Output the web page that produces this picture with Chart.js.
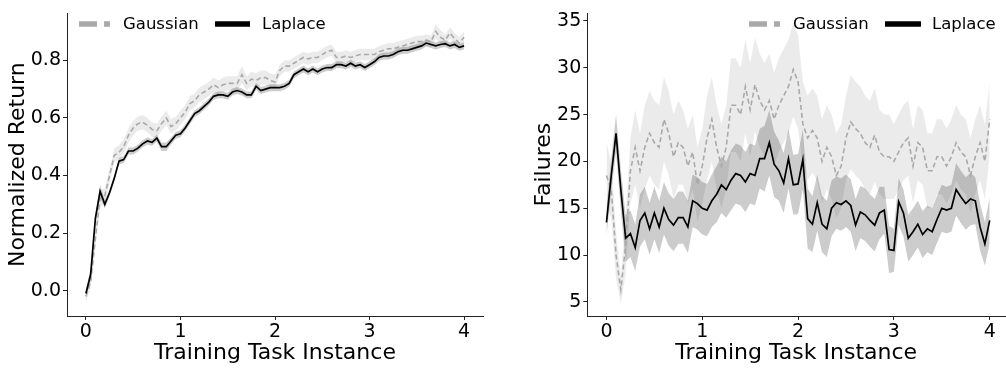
<!DOCTYPE html>
<html>
<head>
<meta charset="utf-8">
<script src="https://cdn.jsdelivr.net/npm/chart.js@4/dist/chart.umd.min.js"></script>
<style>
  html, body { margin: 0; padding: 0; background: #fff; }
  #wrap { position: relative; width: 1006px; height: 369px; overflow: hidden; }
  #c1 { position: absolute; left: 0; top: 0; }
  #c2 { position: absolute; left: 500px; top: 0; }
</style>
</head>
<body>
<div id="wrap">
  <canvas id="c1" width="500" height="369"></canvas>
  <canvas id="c2" width="506" height="369"></canvas>
</div>
<script>
// ---- data ----
const xs = [0,0.05,0.1,0.15,0.2,0.25,0.3,0.35,0.4,0.45,
  0.5,0.55,0.6,0.65,0.7,0.75,0.8,0.85,0.9,0.95,
  1.0,1.05,1.1,1.15,1.2,1.25,1.3,1.35,1.4,1.45,
  1.5,1.55,1.6,1.65,1.7,1.75,1.8,1.85,1.9,1.95,
  2.0,2.05,2.1,2.15,2.2,2.25,2.3,2.35,2.4,2.45,
  2.5,2.55,2.6,2.65,2.7,2.75,2.8,2.85,2.9,2.95,
  3.0,3.05,3.1,3.15,3.2,3.25,3.3,3.35,3.4,3.45,
  3.5,3.55,3.6,3.65,3.7,3.75,3.8,3.85,3.9,3.95,
  4.0];

const seriesNames = ["Gaussian", "Laplace"];

// Left panel: Normalized Return
const returnGaussian = [-0.02,0.03,0.18,0.32,0.33,0.40,0.47,0.48,0.50,0.54,
  0.565,0.58,0.585,0.575,0.56,0.555,0.58,0.60,0.57,0.58,
  0.60,0.62,0.65,0.66,0.68,0.69,0.70,0.715,0.705,0.715,
  0.72,0.72,0.72,0.75,0.72,0.735,0.73,0.74,0.74,0.73,
  0.725,0.765,0.78,0.78,0.79,0.80,0.81,0.805,0.81,0.81,
  0.82,0.83,0.835,0.81,0.81,0.815,0.81,0.815,0.82,0.82,
  0.82,0.82,0.83,0.835,0.84,0.84,0.845,0.85,0.855,0.86,
  0.865,0.865,0.87,0.865,0.90,0.88,0.87,0.895,0.875,0.86,
  0.88];
const returnGaussianStd = [0.02,0.02,0.025,0.03,0.025,0.025,0.025,0.025,0.025,0.025,
  0.025,0.025,0.025,0.025,0.025,0.025,0.025,0.025,0.025,0.025,
  0.025,0.025,0.025,0.025,0.025,0.025,0.025,0.025,0.025,0.025,
  0.025,0.025,0.025,0.03,0.025,0.025,0.025,0.025,0.025,0.025,
  0.025,0.02,0.02,0.02,0.02,0.02,0.02,0.02,0.02,0.02,
  0.02,0.02,0.02,0.02,0.02,0.02,0.02,0.02,0.02,0.02,
  0.02,0.02,0.02,0.02,0.02,0.02,0.02,0.02,0.02,0.02,
  0.02,0.02,0.02,0.02,0.025,0.025,0.02,0.02,0.02,0.02,
  0.02];
const returnLaplace = [-0.01,0.056,0.25,0.345,0.30,0.34,0.39,0.45,0.455,0.485,
  0.485,0.495,0.51,0.52,0.515,0.53,0.50,0.50,0.52,0.54,
  0.545,0.565,0.59,0.615,0.625,0.64,0.655,0.675,0.68,0.68,
  0.675,0.69,0.695,0.69,0.68,0.68,0.71,0.695,0.70,0.705,
  0.705,0.705,0.71,0.72,0.75,0.76,0.77,0.76,0.77,0.76,
  0.77,0.775,0.775,0.785,0.785,0.78,0.79,0.78,0.785,0.775,
  0.785,0.795,0.81,0.815,0.815,0.82,0.83,0.835,0.835,0.84,
  0.845,0.85,0.86,0.855,0.85,0.855,0.858,0.85,0.855,0.845,
  0.85];
const returnLaplaceStd = [0.015,0.02,0.02,0.02,0.015,0.012,0.012,0.012,0.012,0.012,
  0.012,0.012,0.012,0.012,0.012,0.012,0.015,0.015,0.012,0.012,
  0.012,0.012,0.012,0.012,0.012,0.012,0.012,0.012,0.012,0.012,
  0.012,0.012,0.012,0.012,0.012,0.012,0.012,0.012,0.012,0.012,
  0.012,0.012,0.012,0.012,0.012,0.012,0.012,0.012,0.012,0.012,
  0.012,0.012,0.012,0.012,0.012,0.012,0.012,0.012,0.012,0.012,
  0.012,0.012,0.012,0.012,0.012,0.012,0.012,0.012,0.012,0.012,
  0.012,0.012,0.012,0.012,0.012,0.012,0.012,0.012,0.012,0.012,
  0.012];

// Right panel: Failures
const failGaussian = [18.5,17.0,10.0,6.3,11.0,19.0,21.5,19.0,21.5,23.0,
  22.0,21.5,24.5,23.0,20.5,22.0,21.5,19.5,21.0,17.5,
  19.5,22.5,24.5,21.5,19.5,21.5,26.0,26.0,25.0,28.0,
  25.5,28.2,26.5,25.5,26.5,24.5,26.0,27.0,28.0,29.8,
  28.5,24.0,22.5,23.3,22.5,20.0,21.5,20.5,18.5,19.5,
  22.5,24.2,23.5,23.0,22.0,21.5,22.8,21.0,20.5,20.5,
  20.0,21.0,22.0,22.5,19.5,22.0,21.5,19.0,19.0,20.5,
  20.5,19.5,20.5,22.0,21.0,20.5,18.5,20.5,22.0,20.0,
  24.5];
const failGaussianStd = [3.5,3.0,2.5,1.5,3.0,3.5,4.0,4.0,4.5,4.5,
  4.5,4.5,4.5,4.5,4.5,4.5,4.0,4.0,4.0,4.0,
  4.0,4.5,4.5,4.5,4.5,4.5,5.0,5.0,5.0,5.0,
  5.0,5.0,5.0,5.0,5.0,5.0,5.0,5.0,5.0,5.0,
  5.0,4.5,4.5,4.5,4.5,4.5,4.5,4.5,4.5,4.5,
  4.5,5.0,5.0,5.0,5.0,5.0,5.0,4.5,4.5,4.5,
  4.0,4.0,4.0,4.0,4.0,4.0,4.0,4.0,4.0,4.0,
  4.0,4.0,4.0,4.0,4.0,4.0,4.0,4.0,4.0,4.0,
  4.0];
const failLaplace = [13.5,18.5,23.0,17.0,11.8,12.3,10.8,13.7,14.5,12.8,
  14.5,13.0,15.0,13.8,13.2,14.0,14.0,13.0,15.8,15.5,
  15.0,14.8,15.8,16.5,17.5,17.0,18.0,18.7,18.5,17.8,
  18.7,18.5,20.3,20.3,22.0,19.7,19.0,17.7,20.3,17.5,
  17.6,20.2,13.9,13.3,15.6,13.3,12.8,15.0,15.6,15.4,
  15.8,15.3,13.2,14.6,14.3,13.7,13.2,14.5,14.8,10.6,
  10.5,15.7,14.5,11.8,12.5,13.3,12.2,12.8,12.5,13.8,
  15.0,14.8,15.0,17.0,16.2,15.5,16.0,15.8,13.0,11.2,
  13.7];
const failLaplaceStd = [1.5,1.8,2.0,2.2,2.5,2.5,2.5,2.8,2.8,2.8,
  2.8,2.8,2.8,2.8,2.8,2.8,2.8,2.8,2.8,2.8,
  2.8,2.8,2.8,3.0,3.0,3.0,3.2,3.2,3.2,3.2,
  3.2,3.2,3.2,3.5,3.5,3.5,3.2,3.2,3.2,3.2,
  3.2,3.2,3.2,3.0,3.0,3.0,3.0,3.0,2.8,2.8,
  2.8,2.8,2.8,2.8,2.8,2.8,2.8,2.8,2.5,2.5,
  2.3,2.5,2.5,2.5,2.5,2.5,2.5,2.5,2.5,2.5,
  2.5,2.5,2.5,2.8,2.8,2.8,2.8,2.5,2.5,2.3,
  2.5];

const xTickVals = [0, 1, 2, 3, 4];
const returnTickVals = [0.0, 0.2, 0.4, 0.6, 0.8];
const failTickVals = [5, 10, 15, 20, 25, 30, 35];

// ---- styling ----
const FONT = "'DejaVu Sans', sans-serif";
const GAUSS_LINE = '#a9a9a9';
const LAP_LINE = '#000000';
const GAUSS_BAND = 'rgba(0,0,0,0.08)';
const LAP_BAND = 'rgba(0,0,0,0.2)';

function pts(vals) { return xs.map((x, i) => ({x: x, y: vals[i]})); }
function band(vals, std, sign) { return xs.map((x, i) => ({x: x, y: vals[i] + sign * std[i]})); }

function makeDatasets(g, gs, l, ls) {
  return [
    {label: 'gu', data: band(g, gs, 1), borderWidth: 0, borderColor: 'rgba(0,0,0,0)', pointRadius: 0, fill: '+1', backgroundColor: GAUSS_BAND, order: 6, tension: 0},
    {label: 'gl', data: band(g, gs, -1), borderWidth: 0, borderColor: 'rgba(0,0,0,0)', pointRadius: 0, fill: false, order: 6},
    {label: 'lu', data: band(l, ls, 1), borderWidth: 0, borderColor: 'rgba(0,0,0,0)', pointRadius: 0, fill: '+1', backgroundColor: LAP_BAND, order: 5, tension: 0},
    {label: 'll', data: band(l, ls, -1), borderWidth: 0, borderColor: 'rgba(0,0,0,0)', pointRadius: 0, fill: false, order: 5},
    {label: seriesNames[0], data: pts(g), borderColor: GAUSS_LINE, borderWidth: 1.6, borderDash: [5, 3], pointRadius: 0, fill: false, order: 2, isMean: true, legendDash: [18, 7]},
    {label: seriesNames[1], data: pts(l), borderColor: LAP_LINE, borderWidth: 1.7, pointRadius: 0, fill: false, order: 1, isMean: true, legendDash: []}
  ];
}

const legendPlugin = {
  id: 'customLegend',
  afterDraw(chart, args, opts) {
    const ctx = chart.ctx;
    const items = chart.data.datasets.filter(d => d.isMean);
    ctx.save();
    items.forEach((ds, i) => {
      const it = opts.items[i];
      ctx.strokeStyle = ds.borderColor;
      ctx.lineWidth = 5.5;
      ctx.lineCap = 'butt';
      ctx.setLineDash(ds.legendDash);
      ctx.beginPath();
      ctx.moveTo(it.x0, opts.y);
      ctx.lineTo(it.x1, opts.y);
      ctx.stroke();
      ctx.setLineDash([]);
      ctx.fillStyle = '#000';
      ctx.font = opts.fontSize + 'px ' + FONT;
      ctx.textBaseline = 'middle';
      ctx.textAlign = 'left';
      ctx.fillText(ds.label, it.tx, opts.y + 1);
    });
    ctx.restore();
  }
};

function makeChart(canvas, cfg) {
  return new Chart(canvas, {
    type: 'line',
    data: {datasets: cfg.datasets},
    plugins: [legendPlugin],
    options: {
      responsive: false,
      animation: false,
      devicePixelRatio: 1,
      layout: {padding: {left: 0, top: 5, right: cfg.rightPad, bottom: 0}},
      plugins: {
        legend: {display: false},
        tooltip: {enabled: false},
        customLegend: cfg.legend
      },
      scales: {
        x: {
          type: 'linear',
          min: cfg.xMin, max: cfg.xMax,
          border: {display: true, color: '#222', width: 1},
          grid: {display: true, drawOnChartArea: false, drawTicks: true, tickLength: 4, color: '#222'},
          ticks: {color: '#000', font: {family: FONT, size: 19}, padding: 1, maxRotation: 0, callback: v => String(v)},
          afterBuildTicks: s => { s.ticks = xTickVals.map(v => ({value: v})); },
          title: {display: true, text: 'Training Task Instance', color: '#000', font: {family: FONT, size: 22}, padding: {top: 0, bottom: 3}},
          afterFit: s => { s.height = 53; }
        },
        y: {
          type: 'linear',
          min: cfg.yMin, max: cfg.yMax,
          border: {display: true, color: '#222', width: 1},
          grid: {display: true, drawOnChartArea: false, drawTicks: true, tickLength: 4, color: '#222'},
          ticks: {color: '#000', font: {family: FONT, size: 19}, padding: 2, callback: cfg.yFmt},
          afterBuildTicks: s => { s.ticks = cfg.yTicks.map(v => ({value: v})); },
          title: {display: true, text: cfg.yTitle, color: '#000', font: {family: FONT, size: 22}, padding: {top: cfg.yTitlePad, bottom: 0}},
          afterFit: s => { s.width = cfg.yWidth; }
        }
      }
    }
  });
}

makeChart(document.getElementById('c1'), {
  datasets: makeDatasets(returnGaussian, returnGaussianStd, returnLaplace, returnLaplaceStd),
  rightPad: 17, xMin: -0.2, xMax: 4.2, yMin: -0.088, yMax: 0.963,
  yTicks: returnTickVals, yFmt: v => Number(v).toFixed(1),
  yTitle: 'Normalized Return', yTitlePad: 5, yWidth: 67,
  legend: {y: 24, fontSize: 16.5, items: [{x0: 79, x1: 110, tx: 123}, {x0: 215, x1: 250, tx: 262}]}
});

makeChart(document.getElementById('c2'), {
  datasets: makeDatasets(failGaussian, failGaussianStd, failLaplace, failLaplaceStd),
  rightPad: 1, xMin: -0.2, xMax: 4.16, yMin: 3.5, yMax: 35.8,
  yTicks: failTickVals, yFmt: v => String(v),
  yTitle: 'Failures', yTitlePad: 31, yWidth: 87.3,
  legend: {y: 24, fontSize: 16.5, items: [{x0: 249, x1: 280, tx: 293}, {x0: 385, x1: 421, tx: 432}]}
});
</script>
</body>
</html>
